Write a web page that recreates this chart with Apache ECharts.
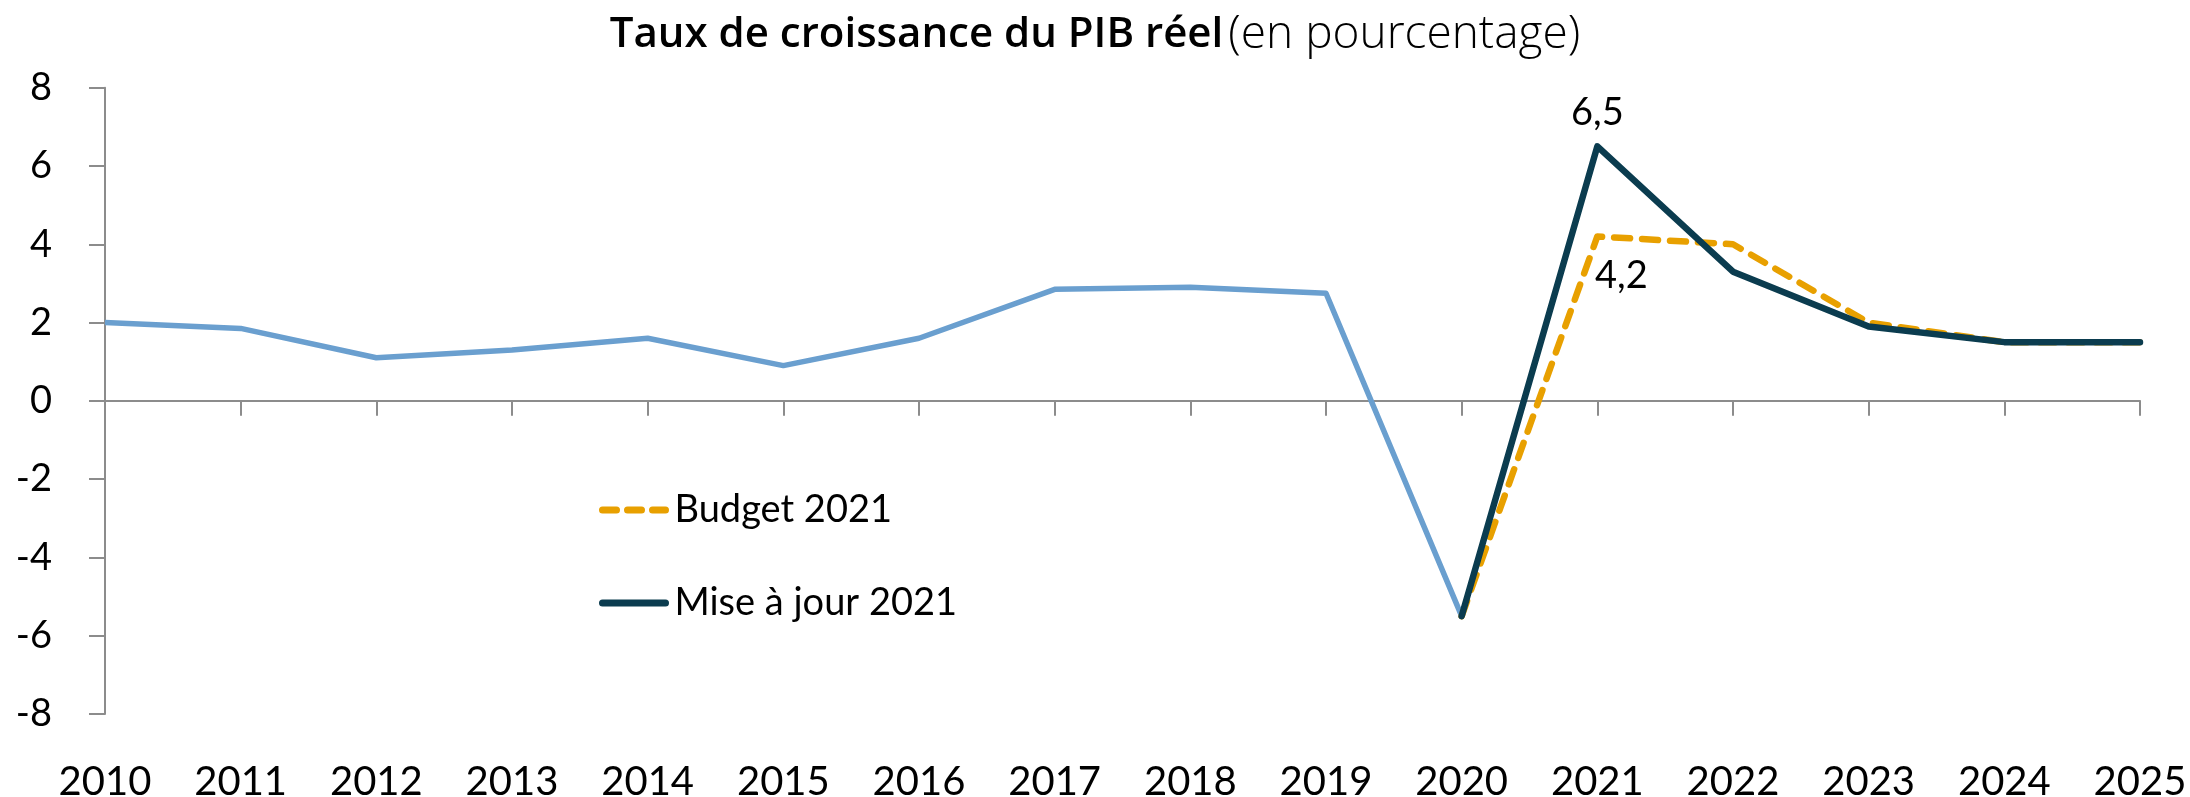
<!DOCTYPE html>
<html>
<head>
<meta charset="utf-8">
<script src="https://cdn.jsdelivr.net/npm/echarts@6/dist/echarts.min.js"></script>
<style>
html,body{margin:0;padding:0;background:#fff;}
#chart{width:2190px;height:797px;}
</style>
</head>
<body>
<div id="chart"></div>
<script>
const years = ['2010','2011','2012','2013','2014','2015','2016','2017','2018','2019','2020','2021','2022','2023','2024','2025'];
const historique = [2.0, 1.85, 1.1, 1.3, 1.6, 0.9, 1.6, 2.85, 2.9, 2.75, -5.5, null, null, null, null, null];
const budget2021 = [null, null, null, null, null, null, null, null, null, null, -5.5, 4.2, 4.0, 2.0, 1.5, 1.5];
const miseAJour2021 = [null, null, null, null, null, null, null, null, null, null, -5.5, 6.5, 3.3, 1.9, 1.5, 1.5];
const yTicks = [-8, -6, -4, -2, 0, 2, 4, 6, 8];

const FONT = 'Lato, "Open Sans", sans-serif';
const chart = echarts.init(document.getElementById('chart'), null, {renderer: 'canvas'});

const labelIdx = 11;
const fmt = p => String(p.value).replace('.', ',');
const option = {
  backgroundColor: '#ffffff',
  animation: false,
  title: {
    text: '{a|Taux de croissance du PIB réel} {b|(en pourcentage)}',
    left: 'center',
    top: 7,
    textStyle: {
      rich: {
        a: {fontFamily: '"Open Sans", sans-serif', fontWeight: 600, fontSize: 42, color: '#000'},
        b: {fontFamily: '"Open Sans", sans-serif', fontWeight: 300, fontSize: 46, color: '#000'}
      }
    }
  },
  legend: {
    orient: 'vertical',
    left: 594,
    top: 486,
    itemGap: 55,
    itemWidth: 63,
    itemHeight: 14,
    itemStyle: {opacity: 0},
    lineStyle: {width: 7, cap: 'round'},
    data: [
      {name: 'Budget 2021', lineStyle: {type: [14, 11], cap: 'round', width: 7}},
      {name: 'Mise à jour 2021', lineStyle: {type: 'solid', cap: 'round', width: 7}}
    ],
    textStyle: {fontFamily: FONT, fontSize: 38, color: '#000', padding: [0, 0, 0, 4]}
  },
  grid: {left: 105, right: 50, top: 87.7, bottom: 83, containLabel: false, outerBoundsMode: 'none'},
  xAxis: [
    {
      type: 'category',
      data: years,
      boundaryGap: false,
      position: 'bottom',
      axisLine: {show: false, onZero: false},
      axisTick: {show: false},
      axisLabel: {fontFamily: FONT, fontSize: 40, color: '#000', margin: 48, interval: 0}
    },
    {
      type: 'category',
      data: years,
      boundaryGap: false,
      position: 'top',
      axisLine: {show: true, onZero: true, lineStyle: {color: '#8c8c8c', width: 2}},
      axisTick: {show: true, inside: true, length: 15, interval: 0, lineStyle: {color: '#8c8c8c', width: 2}},
      axisLabel: {show: false}
    }
  ],
  yAxis: {
    type: 'value',
    min: -8,
    max: 8,
    interval: 2,
    axisLine: {show: true, lineStyle: {color: '#8c8c8c', width: 2}},
    axisTick: {show: true, length: 16, lineStyle: {color: '#8c8c8c', width: 2}},
    splitLine: {show: false},
    axisLabel: {fontFamily: FONT, fontSize: 38, color: '#000', margin: 53,
      formatter: v => yTicks.includes(v) ? String(v) : ''}
  },
  series: [
    {
      name: 'Historique',
      type: 'line',
      data: historique,
      symbol: 'none',
      lineStyle: {color: '#6a9fcf', width: 5.5, join: 'round'},
      itemStyle: {color: '#6a9fcf'},
      z: 2
    },
    {
      name: 'Budget 2021',
      type: 'line',
      data: budget2021.map((v, i) => i === labelIdx ? {value: v, symbol: 'circle', symbolSize: 1,
        label: {show: true, position: 'bottom', offset: [24, 15], formatter: fmt, fontFamily: FONT, fontSize: 38, color: '#000'}} : v),
      symbol: 'none',
      lineStyle: {color: '#e8a000', width: 6.5, type: [16, 12], cap: 'round', join: 'round'},
      itemStyle: {color: '#e8a000'},
      z: 3
    },
    {
      name: 'Mise à jour 2021',
      type: 'line',
      data: miseAJour2021.map((v, i) => i === labelIdx ? {value: v, symbol: 'circle', symbolSize: 1,
        label: {show: true, position: 'top', distance: 14, formatter: fmt, fontFamily: FONT, fontSize: 38, color: '#000'}} : v),
      symbol: 'none',
      lineStyle: {color: '#0b3c4f', width: 6.5, join: 'round', cap: 'round'},
      itemStyle: {color: '#0b3c4f'},
      z: 4
    }
  ]
};
chart.setOption(option);
</script>
</body>
</html>
